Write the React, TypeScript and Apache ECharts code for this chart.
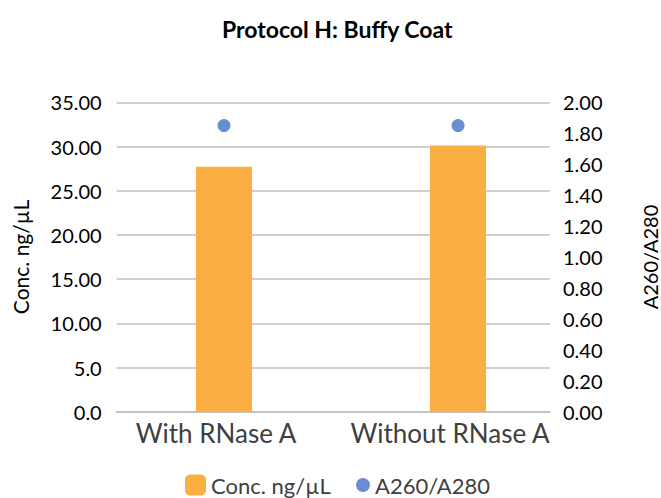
import React, { useEffect, useRef } from "react";
import * as echarts from "echarts";

const categories = ["With RNase A", "Without RNase A"];
const concValues = [27.7, 30.1];
const ratioValues = [1.85, 1.85];
const leftTicks = [0, 5, 10, 15, 20, 25, 30, 35];
const rightTicks = [0, 0.2, 0.4, 0.6, 0.8, 1.0, 1.2, 1.4, 1.6, 1.8, 2.0];

const FONT = "Lato, 'Open Sans', sans-serif";

export default function App() {
  const ref = useRef<HTMLDivElement>(null);
  useEffect(() => {
    document.body.style.margin = "0";
    const chart = echarts.init(ref.current!, null, { renderer: "svg" });
    chart.setOption({
      animation: false,
      textStyle: { fontFamily: FONT },
      title: {
        text: "Protocol H: Buffy Coat",
        left: 217,
        top: 12,
        textStyle: { fontSize: 23, fontWeight: "bold", color: "#000", fontFamily: FONT },
      },
      legend: [
        {
          data: ["Conc. ng/µL"],
          left: 185,
          top: 474,
          itemWidth: 21,
          itemHeight: 21,
          padding: 0,
          textStyle: { fontSize: 22, lineHeight: 21, color: "#404040", fontFamily: FONT },
        },
        {
          data: [{ name: "A260/A280", icon: "circle" }],
          left: 356,
          top: 474,
          itemWidth: 14,
          itemHeight: 14,
          padding: 0,
          textStyle: { fontSize: 22, lineHeight: 21, color: "#404040", fontFamily: FONT },
        },
      ],
      grid: {
        left: 116.7,
        right: 111,
        top: 102.3,
        bottom: 86.3,
        containLabel: false,
        outerBoundsMode: "none",
      },
      xAxis: {
        type: "value",
        min: -0.4585,
        max: 1.393,
        splitLine: { show: false },
        axisTick: { show: false },
        axisLine: { show: true, lineStyle: { color: "#BFBFBF", width: 1.5 } },
        axisLabel: {
          customValues: categories.map((_, i) => i),
          formatter: (v: number) => categories[Math.round(v)] ?? "",
          fontSize: 26,
          color: "#404040",
          margin: 8,
          padding: [0, 16, 0, 0],
          fontFamily: FONT,
        },
      },
      yAxis: [
        {
          type: "value",
          min: 0,
          max: 35,
          interval: 5,
          name: "Conc. ng/µL",
          nameLocation: "middle",
          nameGap: 86,
          nameRotate: 90,
          nameTextStyle: { fontSize: 21, color: "#000", fontFamily: FONT },
          axisLine: { show: false },
          axisTick: { show: false },
          splitLine: { lineStyle: { color: "#BFBFBF", width: 1.5 } },
          axisLabel: {
            customValues: leftTicks,
            formatter: (v: number) => (v < 10 ? v.toFixed(1) : v.toFixed(2)),
            fontSize: 20,
            color: "#000",
            margin: 15,
            fontFamily: FONT,
          },
        },
        {
          type: "value",
          min: 0,
          max: 2,
          interval: 0.2,
          name: "A260/A280",
          nameLocation: "middle",
          nameGap: 90,
          nameRotate: 90,
          nameTextStyle: { fontSize: 20, color: "#000", fontFamily: FONT },
          axisLine: { show: false },
          axisTick: { show: false },
          splitLine: { show: false },
          axisLabel: {
            customValues: rightTicks,
            formatter: (v: number) => v.toFixed(2),
            fontSize: 20,
            color: "#000",
            margin: 13,
            fontFamily: FONT,
          },
        },
      ],
      series: [
        {
          name: "Conc. ng/µL",
          type: "bar",
          yAxisIndex: 0,
          barWidth: 56,
          itemStyle: { color: "#FBAE42" },
          data: concValues.map((v, i) => [i, v]),
        },
        {
          name: "A260/A280",
          type: "scatter",
          yAxisIndex: 1,
          symbol: "circle",
          symbolSize: 13,
          itemStyle: { color: "#4472C4" },
          data: ratioValues.map((v, i) => [i, v]),
        },
      ],
    });
    return () => chart.dispose();
  }, []);
  return (
    <div
      ref={ref}
      style={{ position: "fixed", left: 0, top: 0, width: 661, height: 498, background: "#fff" }}
    />
  );
}
